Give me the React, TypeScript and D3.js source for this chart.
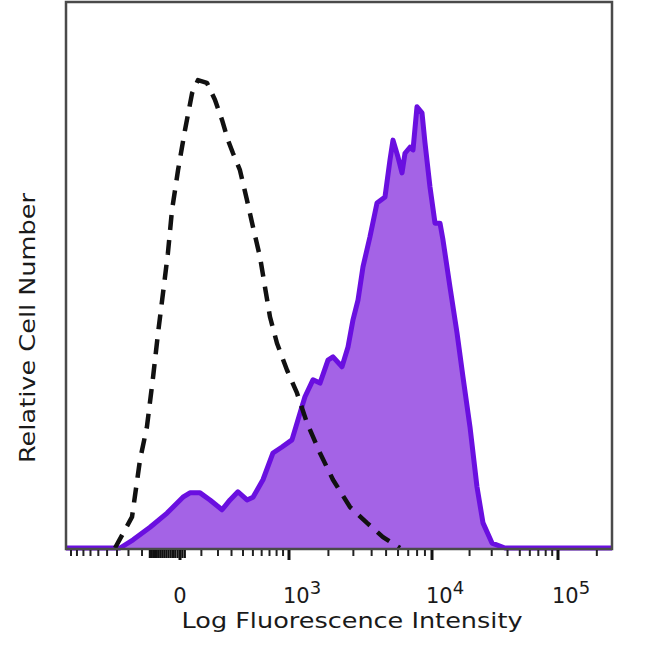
import { useEffect, useRef } from 'react';
import * as d3 from 'd3';

// isotype control (dashed) – intensity / relative count
const controlX = [-419, -272, -214, -168, -131, -103, -77, -53, -34, -8, 21, 53, 82, 131, 180, 228, 272, 312, 372, 439, 501, 580, 641, 707, 806, 965, 1159, 1387, 1736, 2157, 2844, 3720, 4767, 6180];
const controlY = [0, 5.7, 16.1, 22.2, 31.3, 39.4, 46.7, 54.0, 61.9, 69.2, 76.6, 83.3, 85.7, 85.2, 82.1, 78.4, 74.7, 72.3, 69.2, 63.7, 58.8, 53.3, 47.8, 42.3, 37.5, 32.6, 28.4, 22.9, 17.4, 12.5, 7.5, 4.6, 2.0, 0];

// stained sample (filled purple)
const stainedX = [-3000, -372, -264, -149, -57, 12, 43, 93, 149, 228, 288, 354, 439, 501, 616, 748, 883, 1057, 1224, 1338, 1539, 1736, 1986, 2157, 2499, 2754, 2983, 3229, 3493, 3897, 4347, 4917, 5308, 5557, 5997, 6373, 6669, 7191, 7523, 7990, 8611, 9006, 9705, 10575, 11601, 12264, 13956, 15882, 17730, 20154, 22914, 25572, 30150, 38190, 400000];
const stainedY = [0, 0, 1.5, 3.8, 6.4, 9.3, 10.1, 10.1, 8.8, 7.0, 8.8, 10.3, 8.8, 9.3, 12.5, 17.4, 18.5, 19.8, 24.7, 27.7, 30.8, 30.2, 34.4, 35.0, 33.2, 36.8, 41.8, 45.4, 51.5, 57.0, 63.2, 64.3, 71.1, 74.7, 71.6, 68.7, 72.3, 73.4, 72.9, 80.8, 79.7, 74.2, 66.1, 59.5, 59.5, 56.4, 47.8, 39.4, 31.3, 22.2, 11.2, 4.6, 0.9, 0, 0];

// axis ticks
const majorTicks = [0, 1e3, 1e4, 1e5];
const majorLabels = ['0', '3', '4', '5'];
const zeroTicks = d3.range(-150, 30, 10).filter(v => v !== 0);
const minorTicks = [
  ...d3.range(-1000, -150, 100),
  ...d3.range(100, 1000, 100),
  ...d3.range(2e3, 1e4, 1e3),
  ...d3.range(2e4, 1e5, 1e4),
  2e5,
];

const App = () => {
  const svgRef = useRef<any>(null);

  useEffect(() => {
    const svg = d3.select(svgRef.current);
    svg.selectAll('*').remove();

    const left = 66, right = 612, top = 2, bottom = 548;

    // biexponential-ish display: symlog transform then piecewise mapping
    const tf = (v: number) => Math.sign(v) * Math.log1p(Math.abs(v) / 300);
    const xT = d3.scaleLinear()
      .domain([-1000, 0, 1e3, 1e4, 1e5, 262144].map(tf))
      .range([71, 180, 289, 432, 558, right]);
    const x = (v: number) => xT(tf(v));

    const y = d3.scaleLinear().domain([0, 100]).range([bottom, top]);

    svg.append('defs').append('clipPath').attr('id', 'plotclip')
      .append('rect')
      .attr('x', left).attr('y', top)
      .attr('width', right - left).attr('height', bottom - top + 4);

    const g = svg.append('g').attr('clip-path', 'url(#plotclip)');

    const stained: [number, number][] = stainedX.map((v, i) => [v, stainedY[i]]);
    const control: [number, number][] = controlX.map((v, i) => [v, controlY[i]]);

    const area = d3.area<[number, number]>()
      .x(d => x(d[0]))
      .y0(y(0))
      .y1(d => y(d[1]));
    const line = d3.line<[number, number]>()
      .x(d => x(d[0]))
      .y(d => y(d[1]));

    g.append('path')
      .attr('d', area(stained))
      .attr('fill', '#a463e6');
    g.append('path')
      .attr('d', line(stained))
      .attr('fill', 'none')
      .attr('stroke', '#6a0fe0')
      .attr('stroke-width', 5)
      .attr('stroke-linejoin', 'round');

    g.append('path')
      .attr('d', line(control))
      .attr('fill', 'none')
      .attr('stroke', '#111')
      .attr('stroke-width', 4.5)
      .attr('stroke-linejoin', 'round')
      .attr('stroke-dasharray', '15,10');

    // frame
    svg.append('rect')
      .attr('x', left).attr('y', top)
      .attr('width', right - left).attr('height', bottom - top + 1)
      .attr('fill', 'none')
      .attr('stroke', '#4a4a4a')
      .attr('stroke-width', 2.5);

    // ticks
    svg.append('g').selectAll('line')
      .data(minorTicks)
      .join('line')
      .attr('x1', d => x(d)).attr('x2', d => x(d))
      .attr('y1', bottom + 2).attr('y2', bottom + 8)
      .attr('stroke', '#222')
      .attr('stroke-width', 2);
    svg.append('g').selectAll('line')
      .data(zeroTicks)
      .join('line')
      .attr('x1', d => x(d)).attr('x2', d => x(d))
      .attr('y1', bottom + 2).attr('y2', bottom + 10)
      .attr('stroke', '#111')
      .attr('stroke-width', 2.2);
    svg.append('g').selectAll('line')
      .data(majorTicks)
      .join('line')
      .attr('x1', d => x(d)).attr('x2', d => x(d))
      .attr('y1', bottom + 2).attr('y2', bottom + 12)
      .attr('stroke', '#111')
      .attr('stroke-width', 3);

    const font = 'DejaVu Sans, Verdana, sans-serif';
    const labels = svg.append('g')
      .attr('font-family', font)
      .attr('fill', '#1a1a1a');
    majorTicks.forEach((v, i) => {
      if (v === 0) {
        labels.append('text')
          .attr('x', x(v)).attr('y', 603)
          .attr('text-anchor', 'middle')
          .attr('font-size', 21)
          .text('0');
      } else {
        const t = labels.append('text')
          .attr('x', x(v) - 6).attr('y', 603)
          .attr('font-size', 21);
        t.append('tspan').text('10');
        t.append('tspan').attr('dy', -9).attr('font-size', 18).text(majorLabels[i]);
      }
    });

    labels.append('text')
      .attr('x', 352).attr('y', 628)
      .attr('text-anchor', 'middle')
      .attr('font-size', 21)
      .attr('textLength', 341)
      .attr('lengthAdjust', 'spacingAndGlyphs')
      .text('Log Fluorescence Intensity');

    labels.append('text')
      .attr('transform', 'translate(35,328) rotate(-90)')
      .attr('text-anchor', 'middle')
      .attr('font-size', 21)
      .attr('textLength', 270)
      .attr('lengthAdjust', 'spacingAndGlyphs')
      .text('Relative Cell Number');
  }, []);

  return (
    <svg
      ref={svgRef}
      width={650}
      height={650}
      style={{ position: 'absolute', left: 0, top: 0, background: '#fff' }}
    />
  );
};

export default App;
